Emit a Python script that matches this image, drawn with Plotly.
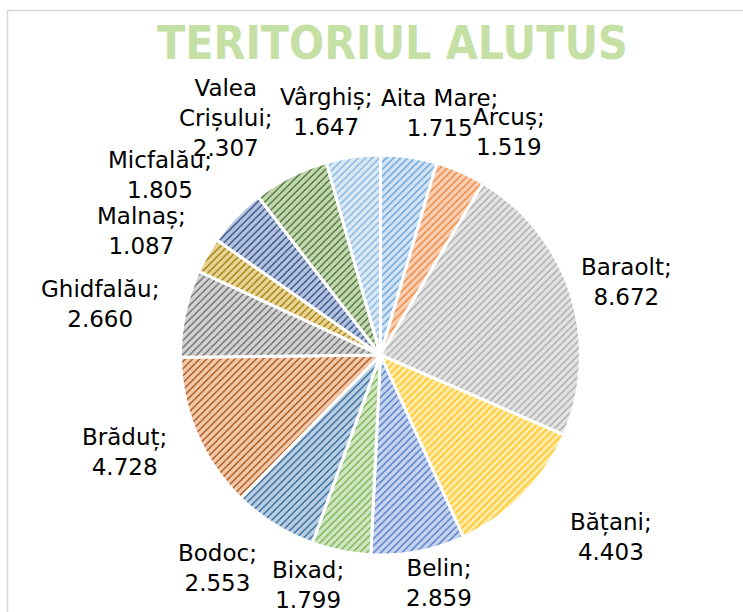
import math
import plotly.graph_objects as go

# ---- data ----
localities = ["Aita Mare", "Arcuș", "Baraolt", "Bățani", "Belin", "Bixad", "Bodoc",
              "Brăduț", "Ghidfalău", "Malnaș", "Micfalău", "Valea Crișului", "Vârghiș"]
population = [1715, 1519, 8672, 4403, 2859, 1799, 2553, 4728, 2660, 1087, 1805, 2307, 1647]
title_text = "TERITORIUL ALUTUS"

# ---- styles ----
stripe_colors = ["#5B9BD5", "#ED7D31", "#A5A5A5", "#FFC000", "#4472C4", "#70AD47", "#255E91",
                 "#9E480E", "#636363", "#997300", "#264478", "#43682B", "#7CAFDD"]
bg_colors = ["#D3E4F4", "#F9D0B3", "#E3E3E3", "#FFE9A8", "#C6D4EE", "#D0E6C2", "#BACFE4",
             "#F4C9AA", "#D3D3D3", "#E9D593", "#B4C3E0", "#C1D8B1", "#DAE9F6"]
label_angle_nudge = [5.5, 6.4, 1.3, -6.3, -3.6, 6.2, 5.3, 2.4, -1.7, -2.5, -4.5, -6.5, -4.9]
label_dist = [249, 258, 257, 294, 235, 241, 268, 274, 285, 269, 285, 283, 249]

W, H = 743, 612
CX, CY, R = 380.5, 355, 200  # pixel center and radius of pie


def fmt(v):
    return f"{v:,}".replace(",", ".")


fig = go.Figure(go.Pie(
    labels=localities,
    values=population,
    sort=False,
    direction="clockwise",
    rotation=0,
    textinfo="none",
    hoverinfo="label+value",
    marker=dict(
        colors=bg_colors,
        line=dict(color="white", width=3),
        pattern=dict(shape="/", fgcolor=stripe_colors, bgcolor=bg_colors,
                     size=5, solidity=0.25, fillmode="replace"),
    ),
    domain=dict(x=[(CX - R) / W, (CX + R) / W], y=[(H - CY - R) / H, (H - CY + R) / H]),
    showlegend=False,
))

total = sum(population)
cum = 0
annotations = []
for i, (name, v) in enumerate(zip(localities, population)):
    mid = (cum + v / 2) / total * 360
    cum += v
    ang = math.radians(mid + label_angle_nudge[i])
    px = CX + label_dist[i] * math.sin(ang)
    py = CY - label_dist[i] * math.cos(ang)
    if name == "Valea Crișului":
        txt = "Valea<br>Crișului;<br>" + fmt(v)
    else:
        txt = f"{name};<br>{fmt(v)}"
    annotations.append(dict(
        x=px / W, y=1 - py / H, xref="paper", yref="paper",
        text=txt, showarrow=False, xanchor="center", yanchor="middle",
        font=dict(family="DejaVu Sans", size=23, color="#000000"),
    ))

annotations.append(dict(
    x=392 / W, y=1 - 43 / H, xref="paper", yref="paper", text=title_text,
    showarrow=False, xanchor="center", yanchor="middle",
    font=dict(family="DejaVu Sans Condensed, sans-serif",
              size=46, color="#C5E0A5", weight="bold"),
))

fig.update_layout(
    width=W, height=H,
    margin=dict(l=0, r=0, t=0, b=0),
    paper_bgcolor="white",
    plot_bgcolor="white",
    annotations=annotations,
    shapes=[dict(type="path", xref="paper", yref="paper",
                 path=f"M {7.5 / W} 0 L {7.5 / W} {1 - 10.5 / H} L 1 {1 - 10.5 / H}",
                 line=dict(color="#D9D9D9", width=1.5))],
)

fig.write_html("out.html", config={"displayModeBar": False},
               post_script="document.body.style.margin='0';")
